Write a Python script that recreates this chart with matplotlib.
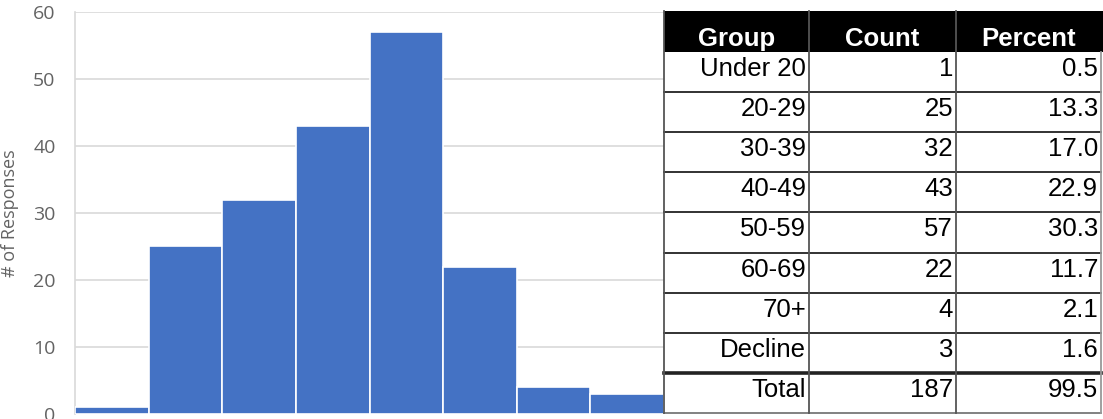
import matplotlib.pyplot as plt
from matplotlib.patches import Rectangle

# ---------------- data ----------------
groups = ["Under 20", "20-29", "30-39", "40-49", "50-59", "60-69", "70+", "Decline"]
counts = [1, 25, 32, 43, 57, 22, 4, 3]
percents = ["0.5", "13.3", "17.0", "22.9", "30.3", "11.7", "2.1", "1.6"]
total_count = "187"
total_percent = "99.5"
headers = ["Group", "Count", "Percent"]
y_ticks = [0, 10, 20, 30, 40, 50, 60]

# ---------------- layout (pixels) ----------------
W, H = 1103, 419
BAR_COLOR = "#4472C4"
GRID = "#d9d9d9"
TICK_GRAY = "#636363"

col_x = [664, 809, 956, 1101]
head_top, head_bot = 11, 52
row_h = 40.1

fig = plt.figure(figsize=(W / 100, H / 100), dpi=100)

# histogram
ax = fig.add_axes([75 / W, 1 - 414 / H, (664 - 75) / W, (414 - 12) / H])
ax.bar(range(len(counts)), counts, width=1, align="edge",
       color=BAR_COLOR, edgecolor="white", linewidth=1.2, zorder=3)
ax.set_xlim(0, len(counts))
ax.set_ylim(0, 60)
ax.set_yticks(y_ticks)
ax.set_xticks([])
ax.yaxis.grid(True, color=GRID, linewidth=1.2, zorder=0)
for s in ["top", "right", "bottom"]:
    ax.spines[s].set_visible(False)
ax.spines["left"].set_color(GRID)
ax.spines["left"].set_linewidth(1.2)
ax.tick_params(axis="y", length=0, pad=14, labelsize=14, labelcolor=TICK_GRAY)
for lab in ax.get_yticklabels():
    lab.set_fontfamily("Open Sans")
ax.set_ylabel("# of Responses", fontsize=13, color=TICK_GRAY,
              fontfamily="Open Sans", labelpad=10)

# table drawn in pixel coordinates on top
tb = fig.add_axes([0, 0, 1, 1], zorder=5)
tb.set_xlim(0, W)
tb.set_ylim(H, 0)
tb.axis("off")

n_rows = len(groups) + 1
table_bot = head_bot + n_rows * row_h
tb.add_patch(Rectangle((col_x[0], head_bot), col_x[-1] - col_x[0], table_bot - head_bot,
                       facecolor="white", edgecolor="none"))
tb.add_patch(Rectangle((col_x[0], head_top), W - col_x[0], head_bot - head_top,
                       facecolor="black", edgecolor="none"))

font = "Liberation Sans"
for i, h in enumerate(headers):
    tb.text((col_x[i] + col_x[i + 1]) / 2, head_bot - 1, h, ha="center", va="bottom",
            color="white", fontweight="bold", fontsize=18.5, fontfamily=font)

rows = [(g, str(c), p) for g, c, p in zip(groups, counts, percents)]
rows.append(("Total", total_count, total_percent))
for r, vals in enumerate(rows):
    yc = head_bot + (r + 0.5) * row_h - 3
    for i, v in enumerate(vals):
        tb.text(col_x[i + 1] - 3, yc, v, ha="right", va="center",
                color="black", fontsize=18.5, fontfamily=font)

# grid lines of the table
for r in range(1, n_rows):
    y = head_bot + r * row_h
    lw = 2.6 if r == n_rows - 1 else 1.3
    tb.plot([col_x[0], col_x[-1]], [y, y], color="#222222", linewidth=lw)
tb.plot([col_x[0], col_x[-1]], [table_bot, table_bot], color="#777777", linewidth=1.3)
for x in col_x[:-1]:
    tb.plot([x, x], [head_top, table_bot], color="#555555", linewidth=1.3)
tb.plot([col_x[-1], col_x[-1]], [head_bot, table_bot], color="#999999", linewidth=1.3)

fig.savefig("out.png", dpi=100)
